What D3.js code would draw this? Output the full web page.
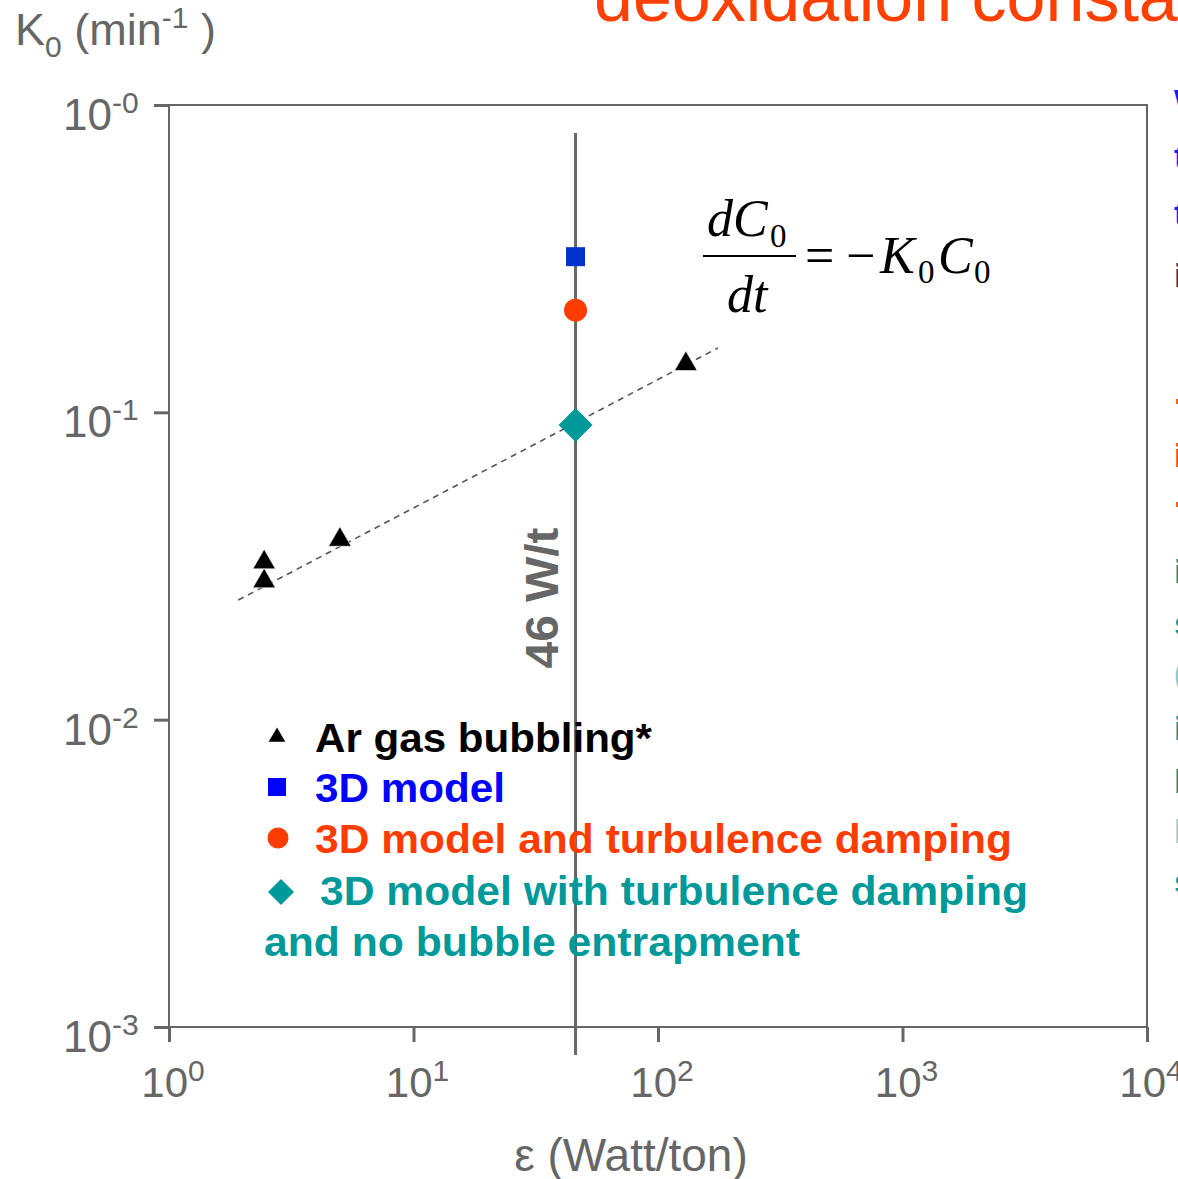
<!DOCTYPE html>
<html>
<head>
<meta charset="utf-8">
<script src="https://cdn.jsdelivr.net/npm/d3@7"></script>
<style>
  html, body { margin: 0; padding: 0; background: #fff; overflow: hidden; }
  svg { display: block; }
</style>
</head>
<body>
<svg id="chart" width="1178" height="1179"></svg>
<script>
// ---- data ----
const argonX = [2.45, 2.45, 5.0, 130];
const argonY = [0.0325, 0.0282, 0.0385, 0.1436];
const modelX = [46];
const modelY = [0.321];
const dampedX = [46];
const dampedY = [0.215];
const noBubbleX = [46];
const noBubbleY = [0.091];
const fitX = [1.92, 176];
const fitY = [0.0245, 0.162];
const markerLineValue = 46;
const xTickExp = [0, 1, 2, 3, 4];
const yTickExp = [0, -1, -2, -3];
const yTickLabels = ["-0", "-1", "-2", "-3"];
const legendItems = [
  { label: "Ar gas bubbling*", color: "#000000", symbol: "triangle", w: 337 },
  { label: "3D model", color: "#0000ff", symbol: "square", w: 190 },
  { label: "3D model and turbulence damping", color: "#ff3c00", symbol: "circle", w: 697 },
  { label: "3D model with turbulence damping", color: "#009999", symbol: "diamond", w: 708 }
];
const legendExtra = "and no bubble entrapment";
const sideNotes = [
  { t: "With", c: "#1a1aff", y: 113 },
  { t: "the", c: "#1a1aff", y: 168 },
  { t: "the", c: "#1a1aff", y: 225 },
  { t: "in", c: "#333366", y: 287 },
  { t: "·", c: "#ff4000", y: 413 },
  { t: "in", c: "#ff4000", y: 467 },
  { t: "·", c: "#ff4000", y: 516 },
  { t: "in", c: "#009999", y: 583 },
  { t: "s", c: "#009999", y: 635 },
  { t: "(", c: "#88cccc", y: 685 },
  { t: "in", c: "#009999", y: 740 },
  { t: "l", c: "#009999", y: 793 },
  { t: "l", c: "#88cccc", y: 843 },
  { t: "s", c: "#009999", y: 893 }
];

// ---- layout ----
const svg = d3.select("#chart");
const gray = "#666666";
const sans = "'Liberation Sans', Arial, Helvetica, sans-serif";
const serif = "'Liberation Serif', 'Times New Roman', serif";
const plot = { left: 169, right: 1147, top: 105, bottom: 1027 };

const x = d3.scaleLog().domain([1, 1e4]).range([plot.left, plot.right]);
const y = d3.scaleLog().domain([1e-3, 1]).range([plot.bottom, plot.top]);

// title fragment at top
svg.append("text")
  .attr("x", 594).attr("y", 21)
  .attr("font-family", sans).attr("font-size", 70)
  .attr("fill", "#ff4000")
  .text("deoxidation constant");

// side notes column (runs off the right edge)
svg.append("g").selectAll("text").data(sideNotes).join("text")
  .attr("x", 1174).attr("y", d => d.y)
  .attr("font-family", sans).attr("font-size", 34)
  .attr("font-weight", "bold")
  .attr("fill", d => d.c)
  .text(d => d.t);

// frame
svg.append("rect")
  .attr("x", plot.left).attr("y", plot.top)
  .attr("width", plot.right - plot.left).attr("height", plot.bottom - plot.top)
  .attr("fill", "none").attr("stroke", gray).attr("stroke-width", 2);

// x axis ticks
const xAxis = d3.axisBottom(x).tickValues(xTickExp.map(e => Math.pow(10, e)))
  .tickSize(15).tickFormat("");
const gx = svg.append("g").attr("transform", `translate(0,${plot.bottom})`).call(xAxis);
gx.select(".domain").remove();
gx.selectAll("line").attr("stroke", gray).attr("stroke-width", 3);

const xl = svg.append("g").selectAll("text").data(xTickExp).join("text")
  .attr("x", d => x(Math.pow(10, d)) + 4).attr("y", 1097)
  .attr("text-anchor", "middle")
  .attr("font-family", sans).attr("font-size", 42).attr("fill", gray);
xl.append("tspan").text("10");
xl.append("tspan").attr("dy", -16).attr("font-size", 30).text(d => String(d));

// y axis ticks
const yAxis = d3.axisLeft(y).tickValues(yTickExp.map(e => Math.pow(10, e)))
  .tickSize(15).tickFormat("");
const gy = svg.append("g").attr("transform", `translate(${plot.left},0)`).call(yAxis);
gy.select(".domain").remove();
gy.selectAll("line").attr("stroke", gray).attr("stroke-width", 3);

const yl = svg.append("g").selectAll("text").data(yTickExp).join("text")
  .attr("x", 63).attr("y", d => y(Math.pow(10, d)) + 25)
  .attr("font-family", sans).attr("font-size", 44).attr("fill", gray);
yl.append("tspan").text("10");
yl.append("tspan").attr("dy", -17).attr("font-size", 30).text((d, i) => yTickLabels[i]);

// axis titles
const yt = svg.append("text").attr("x", 15).attr("y", 45)
  .attr("font-family", sans).attr("font-size", 45).attr("fill", gray);
yt.append("tspan").text("K");
yt.append("tspan").attr("dy", 12).attr("font-size", 30).text("0");
yt.append("tspan").attr("dy", -12).text(" (min");
yt.append("tspan").attr("dy", -17).attr("font-size", 30).text("-1");
yt.append("tspan").attr("dy", 17).text(" )");

svg.append("text").attr("x", 631).attr("y", 1171)
  .attr("text-anchor", "middle")
  .attr("font-family", sans).attr("font-size", 46).attr("fill", gray)
  .text("ε (Watt/ton)");

// vertical reference line
const xm = x(markerLineValue);
svg.append("line")
  .attr("x1", xm).attr("x2", xm).attr("y1", 133).attr("y2", 1055)
  .attr("stroke", gray).attr("stroke-width", 3);
svg.append("text")
  .attr("transform", `translate(${xm - 18},598) rotate(-90)`)
  .attr("text-anchor", "middle")
  .attr("font-family", sans).attr("font-size", 46).attr("font-weight", "bold")
  .attr("fill", gray)
  .attr("textLength", 141).attr("lengthAdjust", "spacingAndGlyphs")
  .text("46 W/t");

// dashed fit line
svg.append("path")
  .datum(fitX.map((v, i) => [v, fitY[i]]))
  .attr("d", d3.line().x(d => x(d[0])).y(d => y(d[1])))
  .attr("fill", "none").attr("stroke", "#555").attr("stroke-width", 1.6)
  .attr("stroke-dasharray", "6,5");

// markers
const tri = d3.symbol().type(d3.symbolTriangle).size(220);
svg.append("g").selectAll("path").data(argonX.map((v, i) => [v, argonY[i]])).join("path")
  .attr("d", tri)
  .attr("transform", d => `translate(${x(d[0])},${y(d[1])})`)
  .attr("fill", "#000").attr("stroke", "#fff").attr("stroke-width", 0.6);

svg.append("g").selectAll("rect").data(modelX.map((v, i) => [v, modelY[i]])).join("rect")
  .attr("x", d => x(d[0]) - 9.5).attr("y", d => y(d[1]) - 9.5)
  .attr("width", 19).attr("height", 19)
  .attr("fill", "#0033cc");

svg.append("g").selectAll("circle").data(dampedX.map((v, i) => [v, dampedY[i]])).join("circle")
  .attr("cx", d => x(d[0])).attr("cy", d => y(d[1])).attr("r", 11.5)
  .attr("fill", "#ff3c00");

svg.append("g").selectAll("path").data(noBubbleX.map((v, i) => [v, noBubbleY[i]])).join("path")
  .attr("d", "M0,-17L17,0L0,17L-17,0Z")
  .attr("transform", d => `translate(${x(d[0])},${y(d[1])})`)
  .attr("fill", "#009999");

// equation: dC0/dt = -K0 C0
const eq = svg.append("g").attr("font-family", serif).attr("font-size", 52).attr("fill", "#000");
const it = (xp, yp, s, italic, size) => eq.append("text")
  .attr("x", xp).attr("y", yp)
  .attr("font-style", italic ? "italic" : "normal")
  .attr("font-size", size || 52)
  .text(s);
it(707, 236, "dC", true);
it(770, 247, "0", false, 33);
eq.append("line").attr("x1", 703).attr("x2", 796).attr("y1", 256).attr("y2", 256)
  .attr("stroke", "#000").attr("stroke-width", 2.2);
it(727, 312, "dt", true);
it(805, 273, "=", false);
it(846, 273, "−", false);
it(880, 273, "K", true);
it(918, 283, "0", false, 33);
it(938, 273, "C", true);
it(974, 283, "0", false, 33);

// legend
const lg = svg.append("g");
const rowY = [737, 787, 838, 890];
legendItems.forEach((item, i) => {
  const cy = rowY[i];
  if (item.symbol === "triangle") {
    lg.append("path").attr("d", d3.symbol().type(d3.symbolTriangle).size(120))
      .attr("transform", `translate(277,${cy})`).attr("fill", item.color);
  } else if (item.symbol === "square") {
    lg.append("rect").attr("x", 268).attr("y", cy - 9).attr("width", 18).attr("height", 18)
      .attr("fill", item.color);
  } else if (item.symbol === "circle") {
    lg.append("circle").attr("cx", 278).attr("cy", cy).attr("r", 10.5).attr("fill", item.color);
  } else {
    lg.append("path").attr("d", "M0,-13L13,0L0,13L-13,0Z")
      .attr("transform", `translate(281,${cy + 2})`).attr("fill", item.color);
  }
  lg.append("text")
    .attr("x", i === 3 ? 320 : 315).attr("y", cy + 15)
    .attr("font-family", sans).attr("font-size", 41).attr("font-weight", "bold")
    .attr("fill", item.color)
    .attr("textLength", item.w).attr("lengthAdjust", "spacingAndGlyphs")
    .text(item.label);
});
lg.append("text").attr("x", 264).attr("y", 956)
  .attr("font-family", sans).attr("font-size", 41).attr("font-weight", "bold")
  .attr("fill", "#009999")
  .attr("textLength", 536).attr("lengthAdjust", "spacingAndGlyphs")
  .text(legendExtra);
</script>
</body>
</html>
